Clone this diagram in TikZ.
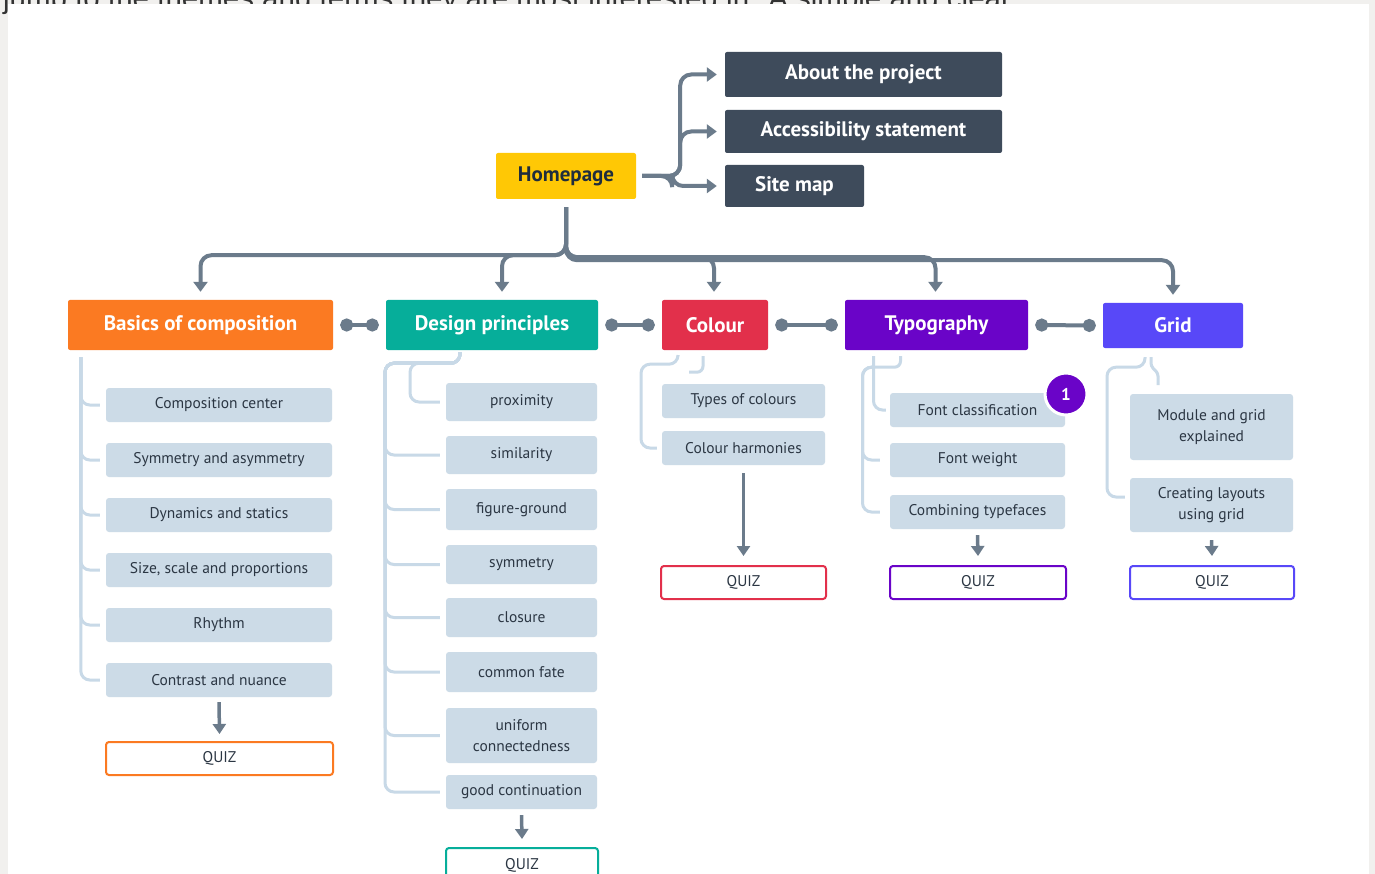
\documentclass[tikz,border=0pt]{standalone}
\usepackage{fontspec}
\setmainfont{PT Sans}
\newfontfamily\pagefont{Liberation Sans}
\usetikzlibrary{arrows.meta}
\usetikzlibrary{positioning}

\definecolor{pagegray}{HTML}{F1F0EE}
\definecolor{linkgray}{HTML}{6B7B8B}
\definecolor{navybox}{HTML}{3E4B5B}
\definecolor{homeyellow}{HTML}{FFC805}
\definecolor{inkdark}{HTML}{1F2D3D}
\definecolor{itemfill}{HTML}{CCDBE7}
\definecolor{itemtext}{HTML}{2B3643}
\definecolor{bracecol}{HTML}{C8D9E7}
\definecolor{basicscol}{HTML}{FB7A22}
\definecolor{designcol}{HTML}{06AE9A}
\definecolor{colourcol}{HTML}{E2304B}
\definecolor{typocol}{HTML}{6A04C8}
\definecolor{gridcol}{HTML}{5848F8}

\tikzset{
  navy/.style={fill=navybox, rounded corners=2pt, inner sep=0pt, text=white,
    font=\bfseries\fontsize{21}{25}\selectfont},
  head/.style={fill=#1, rounded corners=2pt, inner sep=0pt, text=white,
    font=\bfseries\fontsize{21}{25}\selectfont},
  item/.style={fill=itemfill, rounded corners=3pt, inner sep=0pt, text=itemtext,
    align=center, font=\fontsize{15.5}{21}\selectfont},
  quiz/.style={draw=#1, fill=white, line width=2pt, rounded corners=3pt, inner sep=0pt,
    text=itemtext, font=\fontsize{15.5}{18}\selectfont, minimum height=33pt},
  link/.style={linkgray, line width=4pt, rounded corners=11pt,
    -{Triangle[length=10pt,width=14pt]}},
  down/.style={linkgray, line width=3.5pt, -{Triangle[length=10pt,width=13pt]}},
  brace/.style={bracecol, line width=3pt, rounded corners=9pt},
  dumbbell/.style={linkgray, line width=4pt, {Circle[length=13pt]}-{Circle[length=13pt]}},
}

\begin{document}
\begin{tikzpicture}[x=1pt,y=-1pt]
\useasboundingbox (0,0) rectangle (1375,874);
\fill[pagegray] (0,0) rectangle (1375,874);
\node[anchor=base west, inner sep=0pt, text=black!80, font=\pagefont\fontsize{29.5}{34}\selectfont]
  (intro) at (3,9) {jump to the themes and terms they are most interested in. A simple and clear};
\fill[white] (8,4) rectangle (1369,880);

\node[fill=homeyellow, rounded corners=2pt, inner sep=0pt, text=inkdark,
  font=\bfseries\fontsize{21}{25}\selectfont, minimum width=140pt, minimum height=46pt]
  (home) at (566,176) {Homepage};
\node[navy, minimum width=277pt, minimum height=45pt] (about) at (863.5,74.5) {About the project};
\node[navy, minimum width=277pt, minimum height=43pt] (access) at (863.5,131.5) {Accessibility statement};
\node[navy, minimum width=139pt, minimum height=42pt] (sitemap) at (794.5,186) {Site map};

\draw[link] ([xshift=6pt]home.east) -- ++(38,0) |- ([xshift=-8pt]about.west);
\draw[link] ([xshift=6pt]home.east) -- ++(38,0) |- ([xshift=-8pt]access.west);
\draw[link] ([xshift=6pt]home.east) -- ++(30,0) |- ([xshift=-8pt]sitemap.west);

\node[head=basicscol, minimum width=265pt, minimum height=50pt] (basics) at (200.5,325) {Basics of composition};
\node[head=designcol, minimum width=212pt, minimum height=50pt] (design) at (492,325) {Design principles};
\node[head=colourcol, minimum width=106pt, minimum height=50pt] (colour) at (715,325) {Colour};
\node[head=typocol, minimum width=183pt, minimum height=50pt] (typo) at (936.5,325) {Typography};
\node[head=gridcol, minimum width=140pt, minimum height=45pt] (grid) at (1173,325.5) {Grid};

\draw[link] ([yshift=-8pt]home.south) -- ++(0,48) -| ([yshift=8pt]basics.north);
\draw[link] ([yshift=-8pt]home.south) -- ++(0,48) -| ([yshift=8pt,xshift=10pt]design.north);
\draw[link] ([yshift=-8pt]home.south) -- ++(0,50) -| ([yshift=8pt,xshift=-1pt]colour.north);
\draw[link] ([yshift=-8pt]home.south) -- ++(0,50) -| ([yshift=8pt,xshift=-1pt]typo.north);
\draw[link] ([yshift=-8pt]home.south) -- ++(0,53) -| ([yshift=8pt]grid.north);

\draw[dumbbell] ([xshift=7pt]basics.east) -- ([xshift=-7pt]design.west);
\draw[dumbbell] ([xshift=7pt]design.east) -- ([xshift=-7pt]colour.west);
\draw[dumbbell] ([xshift=7pt]colour.east) -- ([xshift=-7pt]typo.west);
\draw[dumbbell] ([xshift=7pt]typo.east) -- ([xshift=-7pt]grid.west);

% basics of composition
\foreach \t [count=\i] in {Composition center, Symmetry and asymmetry, Dynamics and statics,
    {Size, scale and proportions}, Rhythm, Contrast and nuance}
  \node[item, minimum width=226pt, minimum height=34pt] (bc\i) at (219,350+55*\i) {\t};
\foreach \i in {1,...,6}
  \draw[brace] ([xshift=13pt,yshift=-7pt]basics.south west) |- ([xshift=-6pt]bc\i.west);
\node[quiz=basicscol, minimum width=227pt] (quizbc) at (219.5,758.5) {QUIZ};
\draw[down] ([yshift=-5pt]bc6.south) -- ([yshift=7pt]quizbc.north);

% design principles
\node[item, minimum width=151pt, minimum height=38pt] (prox) at (521.5,402) {proximity};
\node[item, minimum width=151pt, minimum height=38pt] (sim) at (521.5,455) {similarity};
\node[item, minimum width=151pt, minimum height=41pt] (fig) at (521.5,509.5) {figure-ground};
\node[item, minimum width=151pt, minimum height=39pt] (sym) at (521.5,564.5) {symmetry};
\node[item, minimum width=151pt, minimum height=39pt] (clo) at (521.5,617.5) {closure};
\node[item, minimum width=151pt, minimum height=40pt] (fate) at (521.5,672) {common fate};
\node[item, minimum width=151pt, minimum height=55pt] (uni) at (521.5,735.5) {uniform\\connectedness};
\node[item, minimum width=151pt, minimum height=34pt] (cont) at (521.5,792) {good continuation};
\coordinate (dtop) at ([xshift=-32pt,yshift=-2pt]design.south);
\foreach \n in {sim,fig,sym,clo,fate,uni,cont}
  \draw[brace] (dtop) -- ++(0,11) -- ++(-75,0) |- ([xshift=-6pt]\n.west);
\draw[brace] (dtop) -- ++(0,11) -- ++(-50,0) |- ([xshift=-6pt]prox.west);
\node[quiz=designcol, minimum width=152pt, minimum height=34pt] (quizdp) at (522,865) {QUIZ};
\draw[down] ([yshift=-6pt]cont.south) -- ([yshift=8pt]quizdp.north);

% colour
\node[item, minimum width=163pt, minimum height=34pt] (tc1) at (743.5,401) {Types of colours};
\node[item, minimum width=163pt, minimum height=34pt] (tc2) at (743.5,448) {Colour harmonies};
\draw[brace] ([xshift=-37pt,yshift=-6pt]colour.south) -- ++(0,8) -- ++(-37,0) |- ([xshift=-5pt]tc2.west);
\draw[brace, rounded corners=6pt] ([xshift=-12pt,yshift=-6pt]colour.south) |- ++(-14,16);
\node[quiz=colourcol, minimum width=165pt] (quizcl) at (743.5,582.5) {QUIZ};
\draw[down] ([yshift=-8pt]tc2.south) -- ([yshift=9pt]quizcl.north);

% typography
\node[item, minimum width=175pt, minimum height=34pt] (fc) at (977.5,410) {Font classification};
\node[item, minimum width=175pt, minimum height=34pt] (fw) at (977.5,460) {Font weight};
\node[item, minimum width=175pt, minimum height=34pt] (ct) at (977.5,512) {Combining typefaces};
\draw[brace, rounded corners=6pt] ([xshift=-36pt,yshift=-6pt]typo.south) |- ++(-27,11);
\draw[brace] ([xshift=-63pt,yshift=-6pt]typo.south) |- ([xshift=-4pt]fc.west);
\foreach \n in {fw,ct}
  \draw[brace] ([xshift=-63pt,yshift=-17pt]typo.south) -- ++(-11,0) |- ([xshift=-10pt]\n.west);
\node[circle, fill=typocol, draw=white, line width=3pt, minimum size=42pt, inner sep=0pt,
  text=white, font=\bfseries\fontsize{17}{20}\selectfont] (badge) at (1066,394) {1};
\node[quiz=typocol, minimum width=176pt] (quizty) at (978,582.5) {QUIZ};
\draw[down] ([yshift=-6pt]ct.south) -- ([yshift=9pt]quizty.north);

% grid
\node[item, minimum width=163pt, minimum height=66pt] (mg) at (1211.5,427) {Module and grid\\explained};
\node[item, minimum width=163pt, minimum height=54pt] (cl) at (1211.5,505) {Creating layouts\\using grid};
\draw[brace] ([xshift=-28pt,yshift=-9pt]grid.south) -- ++(0,10) -- ++(-38,0) |- ([xshift=-5pt,yshift=8pt]cl.west);
\draw[brace, rounded corners=3pt] ([xshift=-22pt,yshift=-9pt]grid.south) -- ++(0,9) -- ++(7,7) -- ++(0,12);
\node[quiz=gridcol, minimum width=164pt] (quizgr) at (1212,582.5) {QUIZ};
\draw[down] ([yshift=-8pt]cl.south) -- ([yshift=9pt]quizgr.north);
\end{tikzpicture}
\end{document}
